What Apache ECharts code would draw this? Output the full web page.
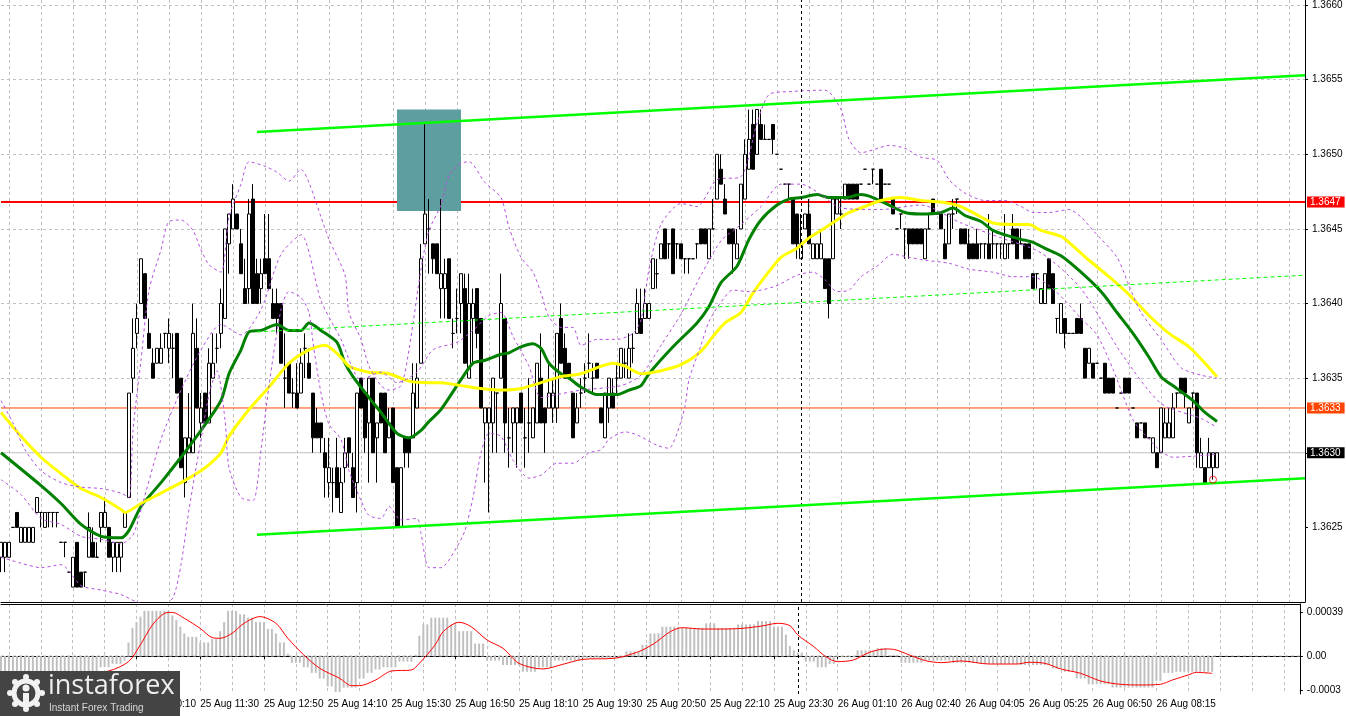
<!DOCTYPE html>
<html><head><meta charset="utf-8">
<script src="https://cdn.jsdelivr.net/npm/echarts@6/dist/echarts.min.js"></script>
<style>html,body{margin:0;padding:0;background:#fff;overflow:hidden}#c{width:1346px;height:716px}</style>
</head><body><div id="c"></div>
<script>
// ---------- DATA ----------
// 5-minute bars: [open, close, low, high]
const candles = [
[1.3623,1.3624,1.3622,1.3624],[1.3623,1.3624,1.3622,1.3624],[1.3623,1.3624,1.3623,1.3624],[1.3625,1.3625,1.3625,1.3625],[1.3626,1.3625,1.3625,1.3626],
[1.3624,1.3625,1.3624,1.3625],[1.3624,1.3625,1.3624,1.3625],[1.3624,1.3625,1.3624,1.3625],[1.3624,1.3625,1.3624,1.3625],[1.3626,1.3627,1.3626,1.3627],
[1.3626,1.3626,1.3625,1.3626],[1.3625,1.3626,1.3625,1.3626],[1.3626,1.3626,1.3625,1.3626],[1.3626,1.3626,1.3625,1.3626],[1.3626,1.3626,1.3625,1.3626],
[1.3624,1.3624,1.3624,1.3624],[1.3624,1.3624,1.3623,1.3624],[1.3622,1.3622,1.3622,1.3622],[1.3621,1.3623,1.3621,1.3623],[1.3624,1.3621,1.3621,1.3624],
[1.3622,1.3621,1.3621,1.3622],[1.3622,1.3622,1.3621,1.3622],[1.3623,1.3625,1.3623,1.3626],[1.3624,1.3623,1.3623,1.3625],[1.3623,1.3623,1.3623,1.3624],
[1.3625,1.3626,1.3624,1.3626],[1.3625,1.3626,1.3625,1.3627],[1.3625,1.3623,1.3623,1.3625],[1.3623,1.3624,1.3622,1.3624],[1.3623,1.3624,1.3622,1.3624],
[1.3623,1.3624,1.3622,1.3624],[1.3625,1.3626,1.3625,1.3626],[1.3627,1.3634,1.3627,1.3634],[1.3635,1.3637,1.3634,1.3639],[1.3638,1.3639,1.3637,1.3640],
[1.3640,1.3643,1.3640,1.3643],[1.3642,1.3639,1.3639,1.3642],[1.3638,1.3637,1.3637,1.3639],[1.3636,1.3635,1.3635,1.3637],[1.3636,1.3637,1.3636,1.3637],
[1.3636,1.3637,1.3636,1.3638],[1.3638,1.3638,1.3637,1.3638],[1.3637,1.3638,1.3636,1.3639],[1.3637,1.3637,1.3635,1.3638],[1.3638,1.3634,1.3634,1.3638],
[1.3635,1.3629,1.3629,1.3635],[1.3628,1.3631,1.3627,1.3631],[1.3630,1.3631,1.3630,1.3634],[1.3630,1.3638,1.3630,1.3640],[1.3637,1.3633,1.3633,1.3639],
[1.3632,1.3633,1.3631,1.3634],[1.3634,1.3632,1.3632,1.3634],[1.3632,1.3636,1.3632,1.3637],[1.3635,1.3636,1.3635,1.3638],[1.3637,1.3637,1.3636,1.3638],
[1.3638,1.3640,1.3637,1.3641],[1.3639,1.3645,1.3639,1.3645],[1.3644,1.3646,1.3642,1.3646],[1.3645,1.3647,1.3645,1.3648],[1.3646,1.3645,1.3645,1.3646],
[1.3644,1.3642,1.3642,1.3645],[1.3641,1.3640,1.3640,1.3643],[1.3641,1.3646,1.3640,1.3647],[1.3647,1.3640,1.3640,1.3648],[1.3642,1.3640,1.3640,1.3643],
[1.3641,1.3642,1.3640,1.3643],[1.3643,1.3642,1.3642,1.3646],[1.3643,1.3641,1.3641,1.3646],[1.3640,1.3639,1.3639,1.3641],[1.3640,1.3639,1.3638,1.3641],
[1.3640,1.3636,1.3636,1.3640],[1.3635,1.3635,1.3633,1.3638],[1.3636,1.3634,1.3634,1.3636],[1.3634,1.3634,1.3633,1.3635],[1.3634,1.3633,1.3633,1.3636],
[1.3634,1.3636,1.3634,1.3637],[1.3637,1.3637,1.3635,1.3638],[1.3636,1.3635,1.3635,1.3637],[1.3634,1.3631,1.3630,1.3634],[1.3632,1.3631,1.3631,1.3633],
[1.3632,1.3631,1.3630,1.3632],[1.3630,1.3629,1.3627,1.3631],[1.3628,1.3629,1.3627,1.3631],[1.3628,1.3628,1.3626,1.3629],[1.3629,1.3627,1.3627,1.3631],
[1.3626,1.3628,1.3626,1.3629],[1.3629,1.3630,1.3628,1.3631],[1.3631,1.3630,1.3629,1.3631],[1.3629,1.3627,1.3627,1.3630],[1.3628,1.3634,1.3626,1.3634],
[1.3635,1.3633,1.3633,1.3635],[1.3634,1.3631,1.3630,1.3634],[1.3632,1.3635,1.3628,1.3635],[1.3635,1.3630,1.3630,1.3635],[1.3631,1.3632,1.3628,1.3632],
[1.3634,1.3632,1.3632,1.3634],[1.3634,1.3630,1.3630,1.3634],[1.3631,1.3632,1.3631,1.3633],[1.3633,1.3628,1.3628,1.3633],[1.3629,1.3625,1.3625,1.3629],
[1.3625,1.3629,1.3625,1.3629],[1.3631,1.3630,1.3629,1.3631],[1.3631,1.3630,1.3629,1.3631],[1.3631,1.3634,1.3631,1.3636],[1.3633,1.3635,1.3633,1.3636],
[1.3636,1.3643,1.3636,1.3644],[1.3644,1.3646,1.3644,1.36521],[1.3645,1.3645,1.3642,1.3647],[1.3644,1.3643,1.3642,1.3644],[1.3644,1.3642,1.3642,1.3644],
[1.3641,1.3642,1.3639,1.3647],[1.3641,1.3642,1.3639,1.3643],[1.3643,1.3639,1.3639,1.3643],[1.3638,1.3638,1.3637,1.3639],[1.3639,1.3639,1.3638,1.3641],
[1.3640,1.3642,1.3638,1.3642],[1.3641,1.3636,1.3636,1.3642],[1.3635,1.3640,1.3635,1.3642],[1.3639,1.3640,1.3636,1.3641],[1.3641,1.3638,1.3637,1.3641],
[1.3639,1.3633,1.3633,1.3639],[1.3632,1.3633,1.3628,1.3633],[1.3632,1.3633,1.3626,1.3633],[1.3632,1.3635,1.3630,1.3635],[1.3634,1.3634,1.3630,1.3634],
[1.3635,1.3640,1.3635,1.3642],[1.3639,1.3632,1.3630,1.3639],[1.3631,1.3631,1.3629,1.3633],[1.3632,1.3633,1.3630,1.3633],[1.3632,1.3633,1.3629,1.3633],
[1.3634,1.3632,1.3632,1.3634],[1.3631,1.3631,1.3629,1.3633],[1.3632,1.3632,1.3630,1.3635],[1.3631,1.3633,1.3631,1.3633],[1.3632,1.3636,1.3632,1.3636],
[1.3635,1.3632,1.3632,1.3638],[1.3633,1.3632,1.3630,1.3633],[1.3633,1.3634,1.3633,1.3636],[1.3633,1.3634,1.3632,1.3635],[1.3633,1.3638,1.3632,1.3638],
[1.3639,1.3636,1.3636,1.3640],[1.3637,1.3635,1.3635,1.3638],[1.3636,1.3635,1.3635,1.3636],[1.3634,1.3631,1.3631,1.3634],[1.3632,1.3633,1.3632,1.3634],
[1.3634,1.3634,1.3633,1.3635],[1.3635,1.3635,1.3634,1.3636],[1.3636,1.3636,1.3635,1.3638],[1.3635,1.3635,1.3634,1.3636],[1.3636,1.3635,1.3635,1.3636],
[1.3633,1.3632,1.3632,1.3633],[1.3631,1.3634,1.3631,1.3634],[1.3633,1.3635,1.3632,1.3635],[1.3634,1.3633,1.3633,1.3635],[1.3635,1.3635,1.3634,1.3636],
[1.3635,1.3637,1.3635,1.3637],[1.3636,1.3636,1.3635,1.3637],[1.3635,1.3637,1.3635,1.3638],[1.3637,1.3637,1.3636,1.3638],[1.3638,1.3640,1.3638,1.3641],
[1.3639,1.3638,1.3638,1.3641],[1.3639,1.3640,1.3639,1.3641],[1.3639,1.3640,1.3639,1.3640],[1.3641,1.3643,1.3641,1.3643],[1.3642,1.3642,1.3641,1.3643],
[1.3643,1.3644,1.3643,1.3644],[1.3645,1.3643,1.3643,1.3645],[1.3644,1.3644,1.3643,1.3644],[1.3645,1.3642,1.3642,1.3645],[1.3644,1.3644,1.3643,1.3644],
[1.3644,1.3643,1.3643,1.3644],[1.3643,1.3643,1.3642,1.3643],[1.3643,1.3643,1.3642,1.3643],[1.3643,1.3643,1.3643,1.3643],[1.3644,1.3644,1.3643,1.3644],
[1.3645,1.3644,1.3644,1.3645],[1.3645,1.3644,1.3644,1.3645],[1.3643,1.3645,1.3643,1.3645],[1.3645,1.3645,1.3645,1.3647],[1.3647,1.3650,1.3647,1.3650],
[1.3649,1.3648,1.3648,1.3650],[1.3647,1.3646,1.3646,1.3648],[1.3645,1.3644,1.3644,1.3645],[1.3645,1.3644,1.3642,1.3645],[1.3643,1.3644,1.3643,1.3645],
[1.3645,1.3648,1.3645,1.3648],[1.3647,1.3650,1.3647,1.3651],[1.3649,1.3651,1.3649,1.3653],[1.3652,1.3649,1.3649,1.3653],[1.3650,1.3653,1.3650,1.3653],
[1.3652,1.3651,1.3651,1.3653],[1.3651,1.3651,1.3651,1.3652],[1.3651,1.3651,1.3651,1.3651],[1.3652,1.3651,1.3650,1.3652],[1.3650,1.3650,1.3650,1.3650],
[1.3649,1.3649,1.3649,1.3649],[1.3648,1.3648,1.3648,1.3648],[1.3648,1.3648,1.3647,1.3648],[1.3647,1.3644,1.3644,1.3647],[1.3646,1.3644,1.3643,1.3646],
[1.3643,1.3644,1.3643,1.3646],[1.3645,1.3646,1.3645,1.3646],[1.3646,1.3644,1.3644,1.3647],[1.3643,1.3644,1.3643,1.3644],[1.3643,1.3644,1.3643,1.3644],
[1.3643,1.3644,1.3643,1.3645],[1.3643,1.3641,1.3641,1.3643],[1.3643,1.3640,1.3639,1.3643],[1.3643,1.3647,1.3643,1.3647],[1.3646,1.3647,1.3646,1.3647],
[1.3646,1.3646,1.3645,1.3647],[1.3647,1.3648,1.3647,1.3648],[1.3648,1.3647,1.3647,1.3648],[1.3648,1.3647,1.3647,1.3648],[1.3648,1.3647,1.3647,1.3648],
[1.3648,1.3648,1.3648,1.3648],[1.3649,1.3649,1.3649,1.3649],[1.3648,1.3648,1.3648,1.3648],[1.3649,1.3649,1.3648,1.3649],[1.3648,1.3648,1.3648,1.3648],
[1.3649,1.3647,1.3647,1.3649],[1.3648,1.3648,1.3648,1.3648],[1.3648,1.3648,1.3648,1.3648],[1.3647,1.3646,1.3646,1.3647],[1.3645,1.3645,1.3645,1.3645],
[1.3646,1.3646,1.3645,1.3646],[1.3645,1.3645,1.3643,1.3645],[1.3645,1.3644,1.3643,1.3645],[1.3645,1.3644,1.3644,1.3645],[1.3645,1.3644,1.3644,1.3645],
[1.3645,1.3644,1.3644,1.3645],[1.3643,1.3645,1.3643,1.3645],[1.3645,1.3645,1.3645,1.3646],[1.3647,1.3646,1.3646,1.3647],[1.3646,1.3646,1.3646,1.3646],
[1.3646,1.3645,1.3645,1.3646],[1.3644,1.3643,1.3643,1.3645],[1.3644,1.3646,1.3644,1.3646],[1.3646,1.3646,1.3645,1.3647],[1.3647,1.3647,1.3646,1.3647],
[1.3645,1.3644,1.3644,1.3645],[1.3645,1.3644,1.3644,1.3645],[1.3644,1.3643,1.3643,1.3645],[1.3644,1.3643,1.3643,1.3644],[1.3644,1.3643,1.3643,1.3645],
[1.3644,1.3644,1.3643,1.3644],[1.3644,1.3644,1.3643,1.3644],[1.3644,1.3643,1.3643,1.3646],[1.3644,1.3644,1.3643,1.3645],[1.3644,1.3644,1.3643,1.3644],
[1.3644,1.3644,1.3643,1.3644],[1.3643,1.3644,1.3643,1.3646],[1.3644,1.3644,1.3643,1.3644],[1.3645,1.3644,1.3644,1.3646],[1.3645,1.3643,1.3643,1.3645],
[1.3644,1.3644,1.3644,1.3645],[1.3644,1.3643,1.3643,1.3644],[1.3644,1.3643,1.3643,1.3644],[1.3642,1.3641,1.3641,1.3642],[1.3642,1.3642,1.3641,1.3642],
[1.3640,1.3641,1.3640,1.3641],[1.3640,1.3642,1.3640,1.3642],[1.3643,1.3641,1.3641,1.3643],[1.3642,1.3640,1.3640,1.3642],[1.3639,1.3639,1.3638,1.3639],
[1.3638,1.3640,1.3638,1.3640],[1.3639,1.3638,1.3637,1.3639],[1.3638,1.3638,1.3638,1.3638],[1.3638,1.3638,1.3638,1.3638],[1.3639,1.3638,1.3638,1.3639],
[1.3639,1.3638,1.3638,1.3640],[1.3637,1.3635,1.3635,1.3637],[1.3636,1.3637,1.3636,1.3637],[1.3636,1.3635,1.3635,1.3636],[1.3636,1.3636,1.3636,1.3636],
[1.3635,1.3635,1.3635,1.3635],[1.3636,1.3634,1.3634,1.3636],[1.3635,1.3634,1.3634,1.3635],[1.3635,1.3634,1.3634,1.3635],[1.3633,1.3633,1.3633,1.3633],
[1.3634,1.3634,1.3634,1.3634],[1.3635,1.3634,1.3634,1.3635],[1.3635,1.3634,1.3634,1.3635],[1.3633,1.3633,1.3633,1.3633],[1.3632,1.3631,1.3631,1.3632],
[1.3632,1.3632,1.3632,1.3632],[1.3632,1.3631,1.3631,1.3632],[1.3631,1.3631,1.3631,1.3631],[1.3630,1.3631,1.3630,1.3631],[1.3630,1.3629,1.3629,1.3630],
[1.3630,1.3633,1.3630,1.3633],[1.3631,1.3632,1.3631,1.3633],[1.3631,1.3632,1.3631,1.3633],[1.3631,1.3633,1.3631,1.3634],[1.3634,1.3634,1.3633,1.3634],
[1.3635,1.3634,1.3634,1.3635],[1.3635,1.3634,1.3633,1.3635],[1.3632,1.3633,1.3632,1.3633],[1.3634,1.3634,1.3633,1.3634],[1.3634,1.3630,1.3629,1.3634],
[1.3629,1.3630,1.3629,1.3631],[1.3629,1.3628,1.3628,1.3629],[1.3629,1.3630,1.3629,1.3631],[1.3629,1.3630,1.36282,1.3630],[1.3629,1.3630,1.3629,1.3630]
];

// moving averages and Bollinger bands: [bar, price]
const greenMA = [[0,1.36300],[10,1.36278],[15,1.36266],[20,1.36252],[25,1.36244],[30,1.36243],[32,1.36248],[35,1.36264],[40,1.36280],[45,1.36297],[50,1.36315],[55,1.36335],[57,1.36353],[60,1.36369],[62,1.36381],[65,1.36382],[69,1.36386],[72,1.36382],[75,1.36382],[77,1.36387],[80,1.36382],[84,1.36374],[86,1.36360],[88,1.36351],[92,1.36337],[95,1.36327],[99,1.36313],[102,1.36310],[105,1.36315],[107,1.36321],[110,1.36329],[115,1.36349],[118,1.36360],[121,1.36362],[125,1.36366],[127,1.36367],[130,1.36371],[133,1.36373],[135,1.36370],[137,1.36360],[140,1.36353],[142,1.36350],[145,1.36344],[149,1.36339],[154,1.36339],[157,1.36342],[160,1.36345],[162,1.36353],[168,1.36371],[174,1.36387],[177,1.36398],[180,1.36414],[184,1.36425],[187,1.36443],[190,1.36456],[194,1.36466],[197,1.36470],[200,1.36471],[204,1.36473],[207,1.36471],[211,1.36471],[215,1.36473],[218,1.36471],[222,1.36466],[226,1.36461],[230,1.36460],[235,1.36461],[238,1.36464],[241,1.36459],[245,1.36455],[248,1.36449],[251,1.36446],[255,1.36443],[258,1.36441],[261,1.36437],[265,1.36432],[270,1.36421],[275,1.36408],[279,1.36394],[283,1.36380],[287,1.36364],[290,1.36351],[294,1.36343],[298,1.36335],[301,1.36327],[304,1.36321]];
const yellowMA = [[0,1.36327],[5,1.36311],[10,1.36297],[15,1.36286],[20,1.36276],[25,1.36270],[30,1.36262],[31,1.36260],[35,1.36266],[40,1.36273],[45,1.36280],[50,1.36288],[52,1.36292],[55,1.36300],[57,1.36311],[62,1.36329],[67,1.36344],[72,1.36360],[77,1.36369],[81,1.36372],[85,1.36364],[87,1.36358],[92,1.36354],[97,1.36353],[102,1.36348],[107,1.36347],[110,1.36347],[115,1.36345],[120,1.36343],[125,1.36342],[130,1.36343],[135,1.36347],[140,1.36351],[145,1.36353],[150,1.36358],[153,1.36360],[156,1.36358],[160,1.36353],[165,1.36355],[170,1.36359],[175,1.36368],[178,1.36378],[181,1.36387],[185,1.36394],[188,1.36407],[191,1.36418],[195,1.36431],[199,1.36437],[202,1.36444],[205,1.36449],[209,1.36456],[212,1.36461],[215,1.36464],[220,1.36469],[225,1.36471],[230,1.36469],[235,1.36468],[240,1.36465],[245,1.36458],[248,1.36454],[253,1.36453],[257,1.36453],[260,1.36449],[265,1.36445],[267,1.36441],[272,1.36429],[277,1.36418],[282,1.36406],[287,1.36392],[292,1.36380],[297,1.36371],[301,1.36360],[304,1.36351]];
const bbUpper = [[0,1.36335],[3,1.36320],[6,1.36302],[10,1.36288],[15,1.36280],[20,1.36277],[25,1.36276],[30,1.36273],[32,1.36270],[33,1.36315],[35,1.36362],[37,1.36409],[40,1.36436],[42,1.36455],[45,1.36456],[48,1.36449],[50,1.36436],[52,1.36426],[55,1.36421],[57,1.36458],[60,1.36480],[62,1.36495],[66,1.36492],[69,1.36488],[72,1.36482],[75,1.36490],[77,1.36481],[80,1.36458],[82,1.36443],[86,1.36419],[87,1.36394],[90,1.36376],[92,1.36358],[95,1.36345],[97,1.36342],[100,1.36345],[102,1.36369],[105,1.36423],[107,1.36449],[110,1.36466],[112,1.36486],[115,1.36494],[117,1.36495],[121,1.36481],[125,1.36471],[127,1.36451],[130,1.36431],[133,1.36421],[135,1.36407],[137,1.36391],[140,1.36384],[143,1.36384],[145,1.36372],[149,1.36376],[154,1.36376],[158,1.36380],[160,1.36389],[162,1.36423],[165,1.36453],[170,1.36467],[174,1.36465],[179,1.36483],[185,1.36485],[189,1.36521],[192,1.36540],[197,1.36542],[206,1.36543],[210,1.36530],[212,1.36510],[215,1.36501],[218,1.36503],[222,1.36506],[226,1.36504],[230,1.36498],[234,1.36496],[237,1.36483],[241,1.36474],[246,1.36469],[251,1.36469],[255,1.36465],[258,1.36461],[262,1.36461],[267,1.36463],[270,1.36458],[273,1.36449],[279,1.36431],[282,1.36412],[285,1.36394],[290,1.36376],[295,1.36357],[300,1.36352],[304,1.36350]];
const bbMiddle = [[0,1.36282],[5,1.36272],[10,1.36256],[15,1.36252],[20,1.36244],[25,1.36242],[30,1.36239],[33,1.36245],[35,1.36262],[40,1.36309],[45,1.36342],[50,1.36369],[55,1.36386],[60,1.36379],[65,1.36396],[70,1.36433],[75,1.36446],[80,1.36402],[85,1.36376],[90,1.36349],[95,1.36354],[99,1.36347],[104,1.36354],[108,1.36369],[114,1.36374],[118,1.36382],[122,1.36392],[125,1.36394],[128,1.36378],[132,1.36358],[135,1.36337],[139,1.36339],[145,1.36342],[155,1.36345],[160,1.36352],[165,1.36372],[170,1.36393],[175,1.36419],[180,1.36442],[185,1.36453],[190,1.36465],[195,1.36480],[200,1.36480],[205,1.36473],[210,1.36464],[220,1.36463],[230,1.36466],[240,1.36454],[250,1.36444],[260,1.36434],[270,1.36410],[280,1.36367],[290,1.36333],[300,1.36323],[304,1.36317]];
const bbLower = [[0,1.36230],[5,1.36226],[10,1.36223],[15,1.36225],[20,1.36211],[25,1.36208],[30,1.36205],[34,1.36200],[40,1.36197],[43,1.36203],[45,1.36225],[47,1.36262],[50,1.36309],[52,1.36339],[54,1.36355],[56,1.36322],[57,1.36290],[60,1.36270],[63,1.36268],[65,1.36302],[67,1.36345],[70,1.36396],[72,1.36408],[75,1.36404],[77,1.36394],[78,1.36374],[80,1.36340],[82,1.36319],[85,1.36309],[87,1.36288],[90,1.36268],[92,1.36258],[95,1.36256],[97,1.36264],[100,1.36255],[104,1.36256],[105,1.36246],[107,1.36223],[110,1.36223],[114,1.36237],[116,1.36248],[118,1.36270],[120,1.36300],[122,1.36313],[125,1.36311],[128,1.36295],[132,1.36283],[135,1.36285],[139,1.36293],[143,1.36293],[147,1.36300],[150,1.36302],[152,1.36309],[156,1.36314],[159,1.36312],[164,1.36305],[167,1.36303],[169,1.36313],[171,1.36331],[172,1.36349],[175,1.36372],[177,1.36388],[180,1.36401],[183,1.36409],[187,1.36408],[190,1.36409],[194,1.36412],[199,1.36419],[203,1.36421],[206,1.36416],[209,1.36408],[212,1.36409],[215,1.36418],[219,1.36425],[223,1.36433],[227,1.36431],[231,1.36429],[237,1.36427],[242,1.36423],[248,1.36421],[253,1.36418],[258,1.36418],[262,1.36412],[266,1.36402],[270,1.36390],[274,1.36379],[278,1.36356],[283,1.36322],[286,1.36312],[290,1.36301],[293,1.36297],[304,1.36299]];

// channel lines: [bar, price]
const channelTop = [[64,1.36515],[326,1.36553]];
const channelMid = [[64,1.36381],[326,1.36419]];
const channelBottom = [[64,1.36245],[326,1.36283]];
// horizontal levels
const levelRed = 1.36468, levelOrange = 1.36330, levelBid = 1.36300;
// signal zone: [from bar, to bar, low, high]
const signalZone = [[99, 115, 1.36462, 1.36530]];
const lowMark = [[303, 1.36282]];
const crossBar = 200;

// MACD histogram (one value per bar) and signal line [bar, value]
const macdHist = [
-0.00018,-0.00018,-0.00018,-0.00018,-0.00018,-0.00018,-0.00018,-0.00018,-0.00018,-0.00018,
-0.00017,-0.00017,-0.00017,-0.00017,-0.00017,-0.00017,-0.00017,-0.00017,-0.00017,-0.00017,
-0.00015,-0.00015,-0.00015,-0.00015,-0.00015,-0.0001,-0.0001,-0.0001,-0.00007,-0.00007,
-0.00007,-0.00004,0.00012,0.00025,0.0003,0.00035,0.0004,0.0004,0.0004,0.0004,
0.0004,0.0004,0.0004,0.00036,0.00032,0.00026,0.0002,0.00017,0.00017,0.00017,
0.00012,0.00012,0.00012,0.00015,0.00015,0.00022,0.0003,0.0004,0.0004,0.0004,
0.00037,0.00037,0.00034,0.00034,0.0003,0.0003,0.0003,0.00024,0.00024,0.0002,
0.00012,0.00012,0.00002,-0.00006,-0.00006,-0.00006,-0.0001,-0.0001,-0.00015,-0.00015,
-0.0002,-0.0002,-0.00027,-0.00027,-0.00032,-0.00032,-0.00028,-0.00028,-0.00028,-0.00028,
-0.0002,-0.0002,-0.00015,-0.00015,-0.00012,-0.00012,-0.0001,-0.0001,-0.0001,-0.0001,
-0.00005,-0.00005,-0.00005,-0.00005,0.00001,0.00018,0.00028,0.00028,0.00034,0.00034,
0.00034,0.00034,0.00034,0.00028,0.00028,0.00022,0.00022,0.00022,0.00022,0.00011,
0.00011,0.00011,-0.00004,-0.00004,-0.00004,-0.00004,-0.00008,-0.00008,-0.00008,-0.00008,
-0.00008,-0.00014,-0.00014,-0.00014,-0.00014,-0.0001,-0.0001,-0.0001,-0.0001,-0.00004,
-0.00004,-0.00004,-0.00004,-0.00004,-0.00004,-0.00004,-0.00002,-0.00002,-0.00002,-0.00002,
-0.00002,-0.00002,-0.00002,-0.00002,-0.00002,-0.00002,-0.00002,0.00004,0.00004,0.00004,
0.00004,0.0001,0.0001,0.0002,0.0002,0.0002,0.00026,0.00026,0.00026,0.00026,
0.00026,0.00025,0.00025,0.00025,0.00025,0.00025,0.00025,0.00029,0.00029,0.00029,
0.00025,0.00025,0.00025,0.00025,0.00025,0.00028,0.00028,0.00028,0.00028,0.00028,
0.00031,0.00031,0.00031,0.00031,0.00026,0.00026,0.00026,0.00019,0.00009,0.00005,
0.00003,0.00003,-0.00005,-0.00005,-0.00005,-0.0001,-0.0001,-0.0001,-0.00007,-0.00007,
-0.00001,-0.00001,-0.00001,-0.00001,-0.00001,0.00005,0.00005,0.00005,0.00005,0.00005,
0.00007,0.00007,0.00007,0.00001,0.00001,0.00001,-0.00006,-0.00006,-0.00006,-0.00006,
-0.00006,-0.00006,-0.00004,-0.00004,-0.00004,-0.00004,-0.00004,-0.00004,-0.00004,-0.00006,
-0.00006,-0.00006,-0.00006,-0.00006,-0.00006,-0.00006,-0.00007,-0.00007,-0.00007,-0.00007,
-0.00007,-0.00007,-0.00007,-0.00007,-0.00007,-0.00007,-0.00008,-0.00008,-0.00008,-0.00008,
-0.00008,-0.00008,-0.00008,-0.00008,-0.00011,-0.00011,-0.00011,-0.00014,-0.00014,-0.00014,
-0.0002,-0.0002,-0.0002,-0.00025,-0.00025,-0.00025,-0.00025,-0.00025,-0.00025,-0.00028,
-0.00028,-0.00028,-0.00028,-0.00028,-0.00028,-0.00028,-0.00028,-0.00028,-0.00028,-0.00028,
-0.00022,-0.00022,-0.00015,-0.00015,-0.00015,-0.00014,-0.00014,-0.00014,-0.00014,-0.00014,
-0.00014,-0.00014,-0.00014,-0.00014,-0.00014
];
const macdSignal = [[0,-0.00017],[10,-0.00017],[20,-0.00016],[27,-0.000133],[32,-0.00005],[35,0.0001],[38,0.000275],[41,0.000378],[43,0.000387],[46,0.000334],[50,0.000245],[53,0.000163],[55,0.000157],[58,0.000201],[61,0.00029],[65,0.000349],[69,0.00029],[72,0.000157],[76,0.000009],[80,-0.000109],[85,-0.000198],[88,-0.000263],[90,-0.000263],[94,-0.000213],[98,-0.000133],[103,-0.000124],[105,-0.000065],[109,0.0001],[111,0.000216],[115,0.000299],[118,0.00026],[122,0.000142],[126,0.000068],[130,-0.000065],[136,-0.000115],[141,-0.000074],[146,-0.00003],[154,-0.00002],[160,0.000038],[164,0.000112],[168,0.000216],[171,0.000251],[176,0.000239],[181,0.000239],[186,0.000245],[191,0.000266],[195,0.00029],[198,0.000269],[200,0.000186],[204,0.000083],[207,-0.000006],[210,-0.00005],[214,-0.000035],[218,0.000033],[222,0.000062],[224,0.000059],[228,0.000009],[232,-0.000041],[236,-0.000059],[241,-0.000044],[248,-0.000071],[255,-0.000071],[258,-0.000056],[262,-0.000065],[266,-0.000115],[271,-0.000154],[276,-0.000222],[281,-0.000251],[286,-0.000257],[291,-0.000251],[294,-0.000213],[298,-0.000168],[300,-0.000145],[304,-0.000154]];
const macdZero = [[0,0],[326,0]];

// axis labels
const timeLabels = ['25 Aug 07:30','25 Aug 08:50','25 Aug 10:10','25 Aug 11:30','25 Aug 12:50','25 Aug 14:10','25 Aug 15:30','25 Aug 16:50','25 Aug 18:10','25 Aug 19:30','25 Aug 20:50','25 Aug 22:10','25 Aug 23:30','26 Aug 01:10','26 Aug 02:40','26 Aug 04:05','26 Aug 05:25','26 Aug 06:50','26 Aug 08:15'];
const priceTicks = [1.3625,1.3635,1.3640,1.3645,1.3650,1.3655,1.3660];
const macdTicks = [0.00039, 0, -0.0003];

// ---------- CHART ----------
const SLOTS = 327;
const slots = Array.from({length: SLOTS}, (_, i) => String(i));
const FONT = '"Liberation Sans", Arial, sans-serif';
const gridDash = {type: [3, 3], color: '#c0c0c0', width: 1};
const isGrid = (i) => (i - 2) % 8 === 0;
const isLabel = (i) => (i - 2) % 16 === 0 && (i - 2) / 16 < timeLabels.length;

const chart = echarts.init(document.getElementById('c'), null, {renderer: 'canvas'});

function hLine(price, color, width, bg, z) {
  return {
    type: 'line', xAxisIndex: 0, yAxisIndex: 0, z: z, silent: true, symbol: 'none',
    data: [[0, price], [SLOTS - 1, price]],
    lineStyle: {color: color, width: width},
    endLabel: {show: true, formatter: () => price.toFixed(4), backgroundColor: bg, color: '#fff',
      fontSize: 10, fontFamily: FONT, padding: [1, 4, 0, 3], lineHeight: 10, distance: 2}
  };
}
function ind(data, color, width, dash, z) {
  return {type: 'line', xAxisIndex: 0, yAxisIndex: 0, z: z, silent: true, symbol: 'none',
    smooth: 0.25, data: data, lineStyle: {color: color, width: width, type: dash || 'solid'}};
}

const LOGO_Z = 100;
const W = '#f2f2f2';
const logoParts = [
  {type: 'rect', shape: {x: 0, y: 671, width: 180, height: 45}, style: {fill: '#444444'}},
  {type: 'circle', shape: {cx: 26, cy: 693, r: 12}, style: {fill: 'none', stroke: W, lineWidth: 5}},
  {type: 'circle', shape: {cx: 26, cy: 677, r: 3}, style: {fill: W}},
  {type: 'circle', shape: {cx: 26, cy: 709, r: 3}, style: {fill: W}},
  {type: 'circle', shape: {cx: 10, cy: 693, r: 3}, style: {fill: W}},
  {type: 'circle', shape: {cx: 42, cy: 693, r: 3}, style: {fill: W}},
  {type: 'circle', shape: {cx: 15, cy: 682, r: 3}, style: {fill: W}},
  {type: 'circle', shape: {cx: 37, cy: 682, r: 3}, style: {fill: W}},
  {type: 'circle', shape: {cx: 15, cy: 704, r: 3}, style: {fill: W}},
  {type: 'circle', shape: {cx: 37, cy: 704, r: 3}, style: {fill: W}},
  {type: 'circle', shape: {cx: 26, cy: 688, r: 3.5}, style: {fill: W}},
  {type: 'rect', shape: {x: 23, y: 693, width: 6, height: 12}, style: {fill: W}},
  {type: 'text', x: 48, y: 673, style: {text: 'instaforex', fill: '#eeeeee', font: '27px "Open Sans", "DejaVu Sans", sans-serif'}},
  {type: 'text', x: 49, y: 703, style: {text: 'Instant Forex Trading', fill: '#d8d8d8', font: '10px "Liberation Sans", Arial, sans-serif'}}
].map(e => Object.assign({z: LOGO_Z, silent: true}, e));

const option = {
  animation: false,
  backgroundColor: '#ffffff',
  textStyle: {fontFamily: FONT},
  grid: [
    {left: 1, top: 0, width: 1304, height: 602, show: false},
    {left: 1, top: 604, width: 1304, height: 90, show: false}
  ],
  xAxis: [
    {type: 'category', gridIndex: 0, data: slots, boundaryGap: false,
      axisLine: {show: true, lineStyle: {color: '#000', width: 1}}, axisTick: {show: false}, axisLabel: {show: false},
      splitLine: {show: true, interval: (i) => isGrid(i), lineStyle: gridDash}},
    {type: 'category', gridIndex: 1, data: slots, boundaryGap: false, position: 'bottom',
      axisLine: {show: true, lineStyle: {color: '#000', width: 1}},
      axisTick: {show: true, interval: (i) => isLabel(i), length: 3, lineStyle: {color: '#000'}},
      axisLabel: {show: true, interval: (i) => isLabel(i), align: 'left', margin: 5, color: '#000', fontSize: 10, fontFamily: FONT,
        formatter: (v, i) => timeLabels[(i - 2) / 16] || ''},
      splitLine: {show: true, interval: (i) => isGrid(i), lineStyle: gridDash}},
    {type: 'category', gridIndex: 1, data: slots, boundaryGap: false, position: 'top',
      axisLine: {show: true, lineStyle: {color: '#000', width: 1}}, axisTick: {show: false}, axisLabel: {show: false}, splitLine: {show: false}}
  ],
  yAxis: [
    {type: 'value', gridIndex: 0, position: 'right', min: 1.3620, max: 1.366034, interval: 0.0005, scale: true,
      axisLine: {show: true, lineStyle: {color: '#000', width: 1}},
      axisTick: {show: true, length: 3, customValues: priceTicks.concat([1.3630]), lineStyle: {color: '#000'}},
      axisLabel: {show: true, customValues: priceTicks, formatter: (v) => v.toFixed(4), color: '#000', fontSize: 10, margin: 7, fontFamily: FONT},
      splitLine: {show: true, showMaxLine: false, showMinLine: false, lineStyle: gridDash}},
    {type: 'value', gridIndex: 1, position: 'right', min: -0.000337, max: 0.000461,
      axisLine: {show: true, lineStyle: {color: '#000', width: 1}},
      axisTick: {show: true, length: 3, customValues: macdTicks, lineStyle: {color: '#000'}},
      axisLabel: {show: true, customValues: macdTicks, color: '#000', fontSize: 10, margin: 7, fontFamily: FONT,
        formatter: (v) => Math.abs(v) < 1e-9 ? '0.00' : (v > 0 ? '0.00039' : '-0.0003')},
      splitLine: {show: false}}
  ],
  series: [
    hLine(levelRed, '#ff0000', 2, '#ff0000', 1),
    hLine(levelOrange, '#ff4500', 1, '#ff4500', 1),
    hLine(levelBid, '#c0c0c0', 1, '#000000', 1),
    {type: 'custom', xAxisIndex: 0, yAxisIndex: 0, z: 2, silent: true, data: signalZone,
      encode: {x: [0, 1], y: [2, 3]},
      renderItem: (params, api) => {
        const a = api.coord([api.value(0), api.value(3)]);
        const b = api.coord([api.value(1), api.value(2)]);
        return {type: 'rect', shape: {x: a[0], y: a[1], width: b[0] - a[0], height: b[1] - a[1]}, style: {fill: '#5f9ea0'}};
      }},
    {type: 'candlestick', xAxisIndex: 0, yAxisIndex: 0, z: 3, silent: true, barWidth: 3, data: candles,
      itemStyle: {color: '#ffffff', color0: '#000000', borderColor: '#000000', borderColor0: '#000000', borderWidth: 1},
      markLine: {silent: true, symbol: ['none', 'none'], label: {show: false},
        lineStyle: {color: '#000', type: [3, 3], width: 1}, data: [{xAxis: crossBar}]}},
    ind(greenMA, '#008000', 3, null, 4),
    ind(yellowMA, '#ffff00', 3, null, 4),
    ind(bbUpper, '#b450dc', 1, [3, 3], 4),
    ind(bbMiddle, '#b450dc', 1, [3, 3], 4),
    ind(bbLower, '#b450dc', 1, [3, 3], 4),
    {type: 'line', xAxisIndex: 0, yAxisIndex: 0, z: 5, silent: true, symbol: 'none', data: channelTop, lineStyle: {color: '#00ff00', width: 2.5}},
    {type: 'line', xAxisIndex: 0, yAxisIndex: 0, z: 5, silent: true, symbol: 'none', data: channelMid, lineStyle: {color: '#00ff00', width: 1, type: [4, 3]}},
    {type: 'line', xAxisIndex: 0, yAxisIndex: 0, z: 5, silent: true, symbol: 'none', data: channelBottom, lineStyle: {color: '#00ff00', width: 2.5}},
    {type: 'scatter', xAxisIndex: 0, yAxisIndex: 0, z: 6, silent: true, data: lowMark, symbol: 'circle', symbolSize: 7,
      itemStyle: {color: 'rgba(0,0,0,0)', borderColor: '#ff0000', borderWidth: 1}},
    {type: 'line', xAxisIndex: 1, yAxisIndex: 1, z: 1, silent: true, symbol: 'none', data: macdZero, lineStyle: gridDash},
    {type: 'bar', xAxisIndex: 1, yAxisIndex: 1, z: 2, silent: true, barWidth: 2, data: macdHist, itemStyle: {color: '#c0c0c0'},
      markLine: {silent: true, symbol: ['none', 'none'], label: {show: false},
        lineStyle: {color: '#000', type: [3, 3], width: 1}, data: [{xAxis: crossBar}]}},
    {type: 'line', xAxisIndex: 1, yAxisIndex: 1, z: 3, silent: true, symbol: 'none', smooth: 0.3, data: macdSignal,
      lineStyle: {color: '#ff0000', width: 1}}
  ],
  graphic: {elements: logoParts}
};
chart.setOption(option);
</script>
</body></html>
